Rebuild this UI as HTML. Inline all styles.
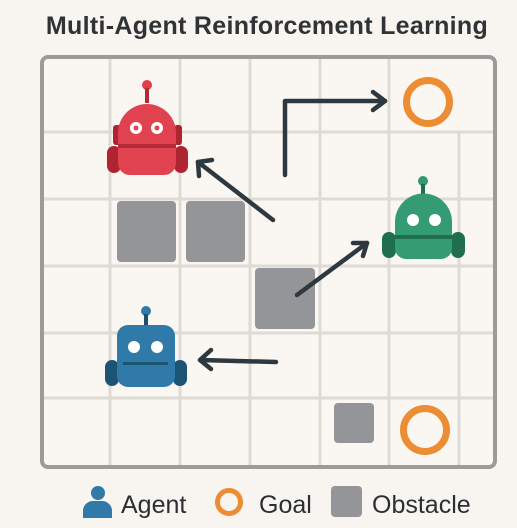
<!DOCTYPE html>
<html><head><meta charset="utf-8"><style>
html,body{margin:0;padding:0;background:#f8f5f0;width:517px;height:528px;overflow:hidden}
svg{display:block}
</style></head><body>
<svg width="517" height="528" viewBox="0 0 517 528" xmlns="http://www.w3.org/2000/svg">
<rect width="517" height="528" fill="#f8f5f0"/>
<text x="267" y="34" text-anchor="middle" font-family="Liberation Sans, sans-serif" font-weight="bold" font-size="25" letter-spacing="0.3" fill="#2f3336">Multi-Agent Reinforcement Learning</text>
<rect x="42" y="57" width="453" height="410" rx="6" fill="#faf7f3"/>
<g stroke="#dedad4" stroke-width="3">
<line x1="110" y1="59" x2="110" y2="465"/><line x1="180" y1="59" x2="180" y2="465"/>
<line x1="250" y1="59" x2="250" y2="465"/><line x1="320" y1="59" x2="320" y2="465"/>
<line x1="389" y1="59" x2="389" y2="465"/><line x1="459" y1="132" x2="459" y2="465"/>
<line x1="44" y1="132" x2="493" y2="132"/><line x1="44" y1="199" x2="493" y2="199"/>
<line x1="44" y1="266" x2="493" y2="266"/><line x1="44" y1="333" x2="493" y2="333"/>
<line x1="44" y1="398" x2="493" y2="398"/>
</g>
<rect x="42" y="57" width="453" height="410" rx="6" fill="none" stroke="#9b9b9b" stroke-width="4"/>
<g fill="#939598">
<rect x="117" y="201" width="59" height="61" rx="4"/><rect x="186" y="201" width="59" height="61" rx="4"/>
<rect x="255" y="268" width="60" height="61" rx="4"/><rect x="334" y="403" width="40" height="40" rx="4"/>
</g>
<g fill="none" stroke="#ec8c33" stroke-width="7">
<circle cx="428" cy="102" r="21.5"/><circle cx="425" cy="430" r="21.5"/>
</g>
<g>
<circle cx="147" cy="85" r="5" fill="#de3f4b"/><rect x="145" y="88" width="4" height="15" fill="#b52a36"/>
<rect x="107" y="146" width="14" height="27" rx="7" fill="#b02331"/><rect x="174" y="146" width="14" height="27" rx="7" fill="#b02331"/>
<rect x="113" y="125" width="8" height="20" rx="3" fill="#b02331"/><rect x="174" y="125" width="8" height="20" rx="3" fill="#b02331"/>
<path d="M118 133 a29 29 0 0 1 58 0 V163 a12 12 0 0 1 -12 12 H130 a12 12 0 0 1 -12 -12 Z" fill="#e0424f"/>
<rect x="118" y="144" width="58" height="4" fill="#b52a36"/>
<circle cx="136" cy="128" r="6" fill="#fff"/><circle cx="157" cy="128" r="6" fill="#fff"/>
<circle cx="136" cy="128" r="2.5" fill="#e0424f"/><circle cx="157" cy="128" r="2.5" fill="#e0424f"/>
</g>
<g>
<circle cx="423" cy="181" r="5" fill="#2f9a6c"/><rect x="421" y="184" width="4" height="10" fill="#1d6e4c"/>
<rect x="382" y="232" width="14" height="26" rx="7" fill="#1f6e4e"/><rect x="451" y="232" width="14" height="26" rx="7" fill="#1f6e4e"/>
<path d="M395 222 a28.5 28.5 0 0 1 57 0 V248 a11 11 0 0 1 -11 11 H406 a11 11 0 0 1 -11 -11 Z" fill="#359b72"/>
<rect x="395" y="235" width="57" height="4" fill="#1f6e4e"/>
<circle cx="413" cy="220" r="6" fill="#fff"/><circle cx="435" cy="220" r="6" fill="#fff"/>
</g>
<g>
<circle cx="146" cy="311" r="5" fill="#2f7aa8"/><rect x="144" y="314" width="4" height="12" fill="#1c4f6c"/>
<rect x="105" y="360" width="14" height="26" rx="7" fill="#1c5474"/><rect x="173" y="360" width="14" height="26" rx="7" fill="#1c5474"/>
<rect x="117" y="325" width="58" height="62" rx="11" fill="#2f7aa8"/>
<circle cx="134" cy="347" r="6" fill="#fff"/><circle cx="157" cy="347" r="6" fill="#fff"/>
<rect x="123" y="362" width="45" height="3" fill="#1c5474"/>
</g>
<g fill="none" stroke="#2d393f" stroke-width="4.5" stroke-linecap="round" stroke-linejoin="round">
<path d="M285 175 V101 H385"/><path d="M373 92 L385 101 L373 110"/>
<path d="M273 220 L198 162"/><path d="M199 176 L198 162 L212 160"/>
<path d="M297 295 L367 243"/><path d="M353 243 L367 243 L363 256"/>
<path d="M276 362 L200 360"/><path d="M211 350 L200 360 L211 369"/>
</g>
<circle cx="98" cy="493" r="7" fill="#2f7aa8"/>
<path d="M83 518 V510 a10 10 0 0 1 10 -9 H102 a10 10 0 0 1 10 9 V518 Z" fill="#2f7aa8"/>
<text x="121" y="513" font-family="Liberation Sans, sans-serif" font-size="25" fill="#2a2f33">Agent</text>
<circle cx="229" cy="502" r="11.5" fill="none" stroke="#ec8c33" stroke-width="5"/>
<text x="259" y="513" font-family="Liberation Sans, sans-serif" font-size="25" fill="#2a2f33">Goal</text>
<rect x="331" y="486" width="31" height="31" rx="4" fill="#939598"/>
<text x="372" y="513" font-family="Liberation Sans, sans-serif" font-size="25" fill="#2a2f33">Obstacle</text>
</svg>
</body></html>
